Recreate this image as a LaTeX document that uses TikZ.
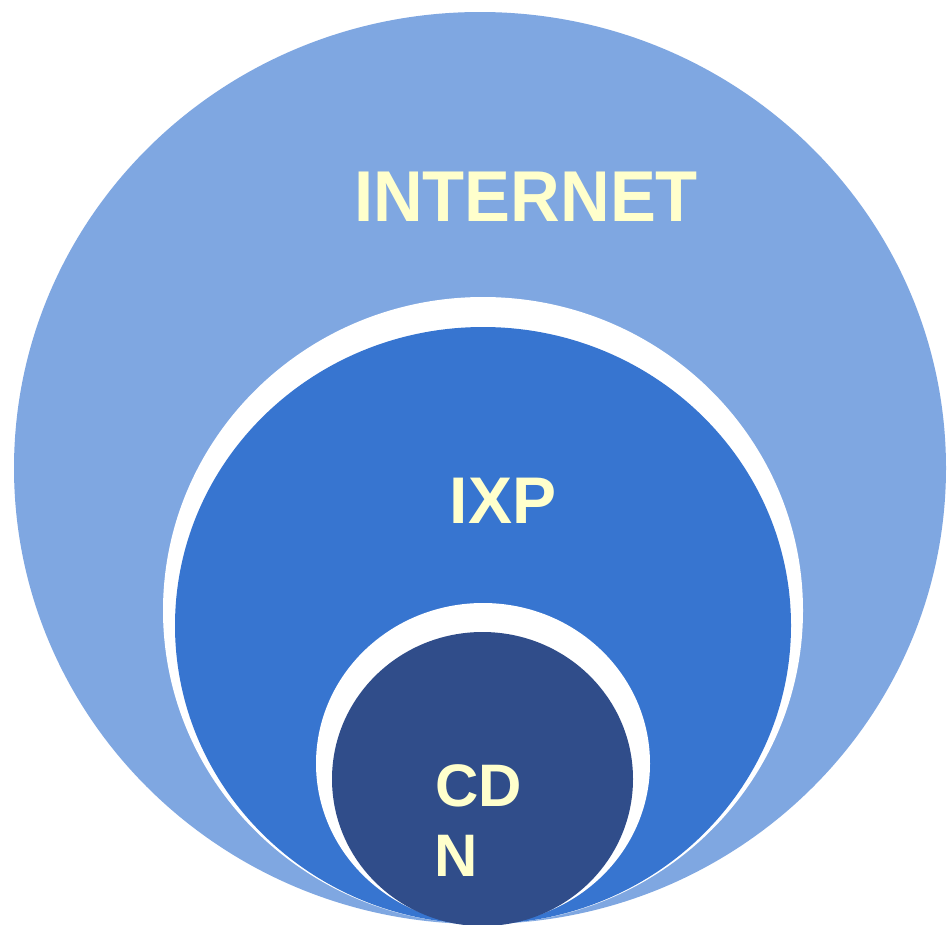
\documentclass[tikz,border=0pt]{standalone}
\usepackage{fontspec}
\setmainfont{Liberation Sans}
\definecolor{outerblue}{HTML}{7FA7E1}
\definecolor{midblue}{HTML}{3775D0}
\definecolor{darkblue}{HTML}{304D8A}
\definecolor{labelyellow}{HTML}{FFFFCC}
\tikzset{
  lbl/.style={inner sep=0pt, text=labelyellow, font=\bfseries},
}
\begin{document}
\begin{tikzpicture}[x=1pt,y=-1pt]
\useasboundingbox (0,0) rectangle (947,924);
\clip (0,0) rectangle (947,924);
\fill[white] (0,0) rectangle (947,924);
% outer ring (Internet)
\fill[outerblue] (480,468) ellipse [x radius=466pt, y radius=456pt];
% IXP
\fill[white] (483,610.5) ellipse [x radius=320pt, y radius=313.5pt];
\fill[midblue] (483,625.5) ellipse [x radius=308pt, y radius=298.5pt];
% CDN
\fill[white] (483,763.5) ellipse [x radius=167pt, y radius=160.5pt];
\fill[darkblue] (482.5,779) ellipse [x radius=150.5pt, y radius=147pt];
% labels
\node[lbl, anchor=base] (internet) at (526,221) {\fontsize{72}{80}\selectfont\scalebox{0.955}[1]{INTERNET}};
\node[lbl, anchor=base] (ixp) at (503,523) {\fontsize{66}{72}\selectfont IXP};
\node[lbl, anchor=base west] (cdnA) at (435,806) {\fontsize{60}{71}\selectfont CD};
\node[lbl, anchor=base west] (cdnB) at (434,876) {\fontsize{60}{71}\selectfont N};
\end{tikzpicture}
\end{document}
